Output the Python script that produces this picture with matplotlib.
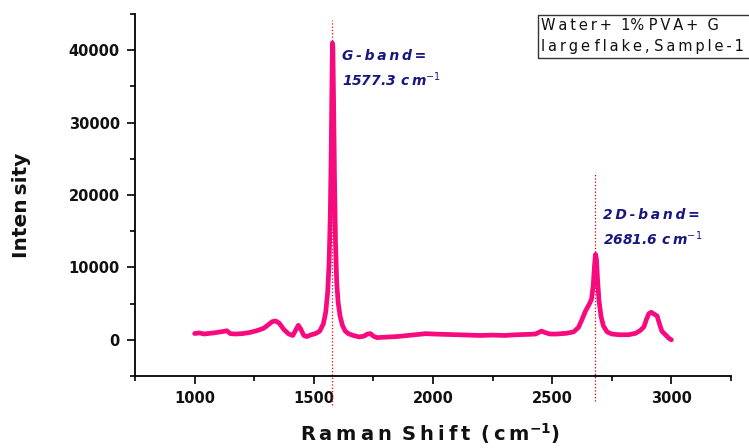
import matplotlib
matplotlib.use("Agg")
import matplotlib.pyplot as plt
from matplotlib.ticker import MultipleLocator
from matplotlib.patches import Rectangle

# Raman spectrum (shift in cm^-1, intensity in counts)
shift = [1000, 1020, 1040, 1060, 1080, 1100, 1120, 1135, 1150, 1170, 1200, 1230,
         1260, 1290, 1310, 1325, 1340, 1355, 1375, 1395, 1412, 1425, 1435, 1445,
         1458, 1470, 1490, 1510, 1525, 1540, 1550, 1558, 1564, 1569, 1573, 1576,
         1578, 1580, 1583, 1587, 1591, 1596, 1602, 1610, 1620, 1632, 1645, 1665,
         1690, 1710, 1725, 1738, 1750, 1765, 1790, 1820, 1850, 1880, 1910, 1940,
         1970, 2000, 2050, 2100, 2150, 2200, 2250, 2300, 2350, 2400, 2430, 2455,
         2470, 2490, 2520, 2560, 2590, 2610, 2625, 2640, 2655, 2665, 2672, 2678,
         2682, 2686, 2690, 2696, 2705, 2715, 2730, 2750, 2780, 2820, 2850, 2870,
         2885, 2895, 2905, 2915, 2930, 2940, 2950, 2960, 2975, 2990, 3000]
intensity = [870, 950, 800, 880, 950, 1050, 1150, 1250, 850, 800, 850, 1000,
             1250, 1600, 2100, 2500, 2600, 2300, 1400, 800, 600, 1400, 2000, 1500,
             600, 450, 700, 900, 1200, 2200, 3800, 6500, 10500, 17000, 26000, 35000,
             41000, 40500, 33000, 22000, 13500, 8000, 5200, 3300, 2000, 1200, 850, 600,
             400, 500, 800, 850, 500, 300, 350, 400, 450, 550, 650, 750,
             850, 800, 750, 700, 650, 600, 650, 600, 700, 750, 800, 1200,
             1000, 800, 800, 900, 1100, 1700, 2800, 4000, 4900, 5600, 7500, 10500,
             11800, 11000, 8500, 5500, 3200, 1900, 1100, 800, 700, 700, 900, 1300,
             1800, 2800, 3600, 3800, 3500, 3300, 2200, 1200, 700, 200, 0]

g_band = 1577.3
d2_band = 2681.6
x_ticks = [1000, 1500, 2000, 2500, 3000]
y_ticks = [0, 10000, 20000, 30000, 40000]


def spaced(s):
    """Open up the letter spacing with thin spaces."""
    return "\u2009".join(s)


W, H = 749, 448
fig = plt.figure(figsize=(W / 100, H / 100), dpi=100)
ax = fig.add_axes([135 / W, 1 - 376 / H, 596 / W, 362 / H])

curve_color = "#f70a7e"
ax.plot(shift, intensity, color=curve_color, lw=3.4, solid_capstyle="round",
        solid_joinstyle="round", zorder=3)

# peak marker lines (extend past the axis)
ax.plot([g_band, g_band], [-9000, 44200], color="red", lw=0.9, ls=":",
        clip_on=False, zorder=2)
ax.plot([d2_band, d2_band], [-8500, 23000], color="#cc0000", lw=0.9, ls=":",
        clip_on=False, zorder=2)

ax.set_xlim(750, 3250)
ax.set_ylim(-5000, 45000)
ax.set_xticks(x_ticks)
ax.set_yticks(y_ticks)
ax.xaxis.set_minor_locator(MultipleLocator(250))
ax.yaxis.set_minor_locator(MultipleLocator(5000))
ax.tick_params(which="major", direction="out", length=6, width=1.2, pad=5)
ax.tick_params(which="minor", direction="out", length=3.5, width=1.2)
for s in ["top", "right"]:
    ax.spines[s].set_visible(False)
for s in ["left", "bottom"]:
    ax.spines[s].set_linewidth(1.3)

for lab in ax.get_xticklabels() + ax.get_yticklabels():
    lab.set_fontweight("bold")
    lab.set_fontsize(10.5)
    lab.set_color("#111111")

fig.text(22 / W, 1 - 205 / H, "Inten\u2009sity", rotation=90, ha="center",
         va="center", fontsize=14.5, fontweight="bold", color="#111111")
fig.text(430 / W, 1 - 434 / H,
         spaced("Raman") + "\u2009 " + spaced("Shift") + "\u2009 " + spaced("(cm")
         + r"$^{\mathbf{-1}}$)", ha="center", va="center", fontsize=14,
         fontweight="bold", color="#111111")

navy = "#17177f"
ann = dict(fontsize=10, fontweight="bold", fontstyle="italic", color=navy,
           ha="left", va="center")
fig.text(342 / W, 1 - 56 / H, spaced("G-band="), **ann)
fig.text(342 / W, 1 - 80 / H, "1577.3 c\u2009m" + r"$^{\mathit{-1}}$", **ann)
fig.text(603 / W, 1 - 215 / H, spaced("2D-band="), **ann)
fig.text(603 / W, 1 - 239 / H, "2681.6 c\u2009m" + r"$^{\mathit{-1}}$", **ann)

# sample label box
fig.patches.append(Rectangle((538 / W, 1 - 58 / H), 230 / W, 43 / H,
                             transform=fig.transFigure, fill=False,
                             edgecolor="#333333", lw=1.0))
fig.text(541 / W, 1 - 26 / H, spaced("Water+") + "  1% " + spaced("PVA+") + "  G",
         fontsize=10.5, ha="left", va="center", color="#111111")
fig.text(541 / W, 1 - 47 / H, spaced("large") + " " + spaced("flake,") + " "
         + spaced("Sample-1"), fontsize=10.5, ha="left", va="center",
         color="#111111")

fig.savefig("out.png", dpi=100)
